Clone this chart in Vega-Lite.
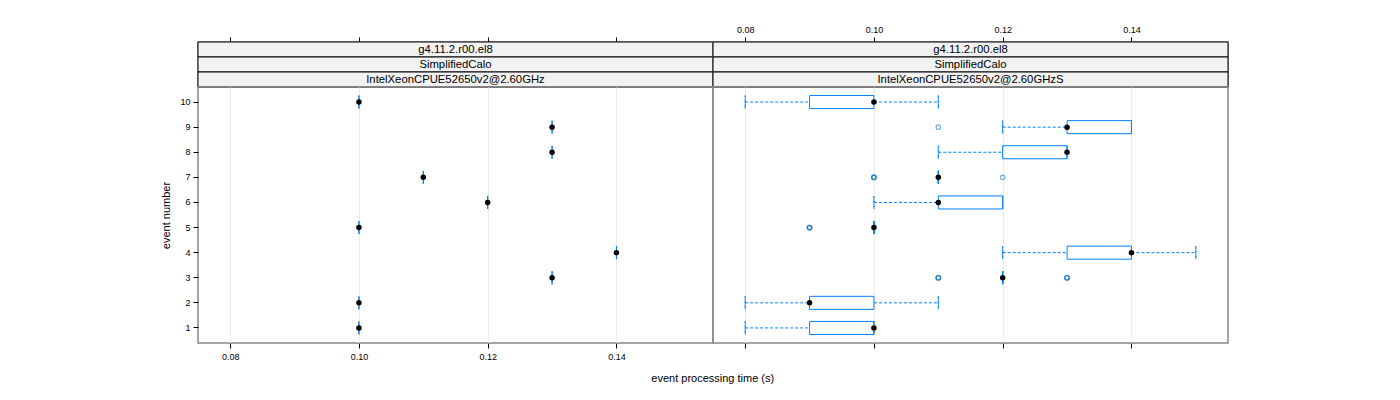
{
  "$schema": "https://vega.github.io/schema/vega-lite/v6.json",
  "padding": {"left": 160, "top": 24, "right": 5, "bottom": 5},
  "config": {
    "font": "Liberation Sans",
    "view": {"stroke": "#888888", "strokeWidth": 1.5},
    "axis": {"labelFontSize": 9, "labelColor": "#000000", "tickColor": "#000000", "titleFontSize": 11, "titleFontWeight": "normal", "titleColor": "#000000", "domain": false}
  },
  "datasets": {
    "strips": [
      {"panel": "L", "level": 1, "label": "g4.11.2.r00.el8"},
      {"panel": "L", "level": 2, "label": "SimplifiedCalo"},
      {"panel": "L", "level": 3, "label": "IntelXeonCPUE52650v2@2.60GHz"},
      {"panel": "R", "level": 1, "label": "g4.11.2.r00.el8"},
      {"panel": "R", "level": 2, "label": "SimplifiedCalo"},
      {"panel": "R", "level": 3, "label": "IntelXeonCPUE52650v2@2.60GHzS"}
    ],
    "single": [
      {"event": 1, "time": 0.10},
      {"event": 2, "time": 0.10},
      {"event": 3, "time": 0.13},
      {"event": 4, "time": 0.14},
      {"event": 5, "time": 0.10},
      {"event": 6, "time": 0.12},
      {"event": 7, "time": 0.11},
      {"event": 8, "time": 0.13},
      {"event": 9, "time": 0.13},
      {"event": 10, "time": 0.10}
    ],
    "boxes": [
      {"event": 10, "lower": 0.08, "q1": 0.09, "median": 0.10, "q3": 0.10, "upper": 0.11},
      {"event": 9, "lower": 0.12, "q1": 0.13, "median": 0.13, "q3": 0.14, "upper": 0.14},
      {"event": 8, "lower": 0.11, "q1": 0.12, "median": 0.13, "q3": 0.13, "upper": 0.13},
      {"event": 7, "lower": 0.11, "q1": 0.11, "median": 0.11, "q3": 0.11, "upper": 0.11},
      {"event": 6, "lower": 0.10, "q1": 0.11, "median": 0.11, "q3": 0.12, "upper": 0.12},
      {"event": 5, "lower": 0.10, "q1": 0.10, "median": 0.10, "q3": 0.10, "upper": 0.10},
      {"event": 4, "lower": 0.12, "q1": 0.13, "median": 0.14, "q3": 0.14, "upper": 0.15},
      {"event": 3, "lower": 0.12, "q1": 0.12, "median": 0.12, "q3": 0.12, "upper": 0.12},
      {"event": 2, "lower": 0.08, "q1": 0.09, "median": 0.09, "q3": 0.10, "upper": 0.11},
      {"event": 1, "lower": 0.08, "q1": 0.09, "median": 0.10, "q3": 0.10, "upper": 0.10}
    ],
    "outliers": [
      {"event": 9, "time": 0.11},
      {"event": 7, "time": 0.10},
      {"event": 7, "time": 0.10},
      {"event": 7, "time": 0.10},
      {"event": 7, "time": 0.12},
      {"event": 5, "time": 0.09},
      {"event": 5, "time": 0.09},
      {"event": 5, "time": 0.09},
      {"event": 3, "time": 0.11},
      {"event": 3, "time": 0.11},
      {"event": 3, "time": 0.11},
      {"event": 3, "time": 0.13},
      {"event": 3, "time": 0.13},
      {"event": 3, "time": 0.13}
    ]
  },
  "title": {"text": "event processing time (s)", "orient": "bottom", "anchor": "middle", "fontSize": 11, "fontWeight": "normal", "color": "#000000", "offset": 11, "dx": 18},
  "spacing": 0,
  "bounds": "flush",
  "columns": 2,
  "resolve": {"scale": {"x": "independent", "y": "independent"}},
  "concat": [
    {
      "width": 515,
      "height": 45,
      "data": {"name": "strips"},
      "transform": [{"filter": "datum.panel === 'L'"}],
      "encoding": {
        "y": {"field": "level", "type": "ordinal", "scale": {"paddingInner": 0, "paddingOuter": 0}, "axis": null}
      },
      "layer": [
        {
          "mark": {"type": "rect", "fill": "#f2f2f2", "stroke": "#000000", "strokeWidth": 1},
          "encoding": {
            "x": {"datum": 0.075, "type": "quantitative", "scale": {"domain": [0.075, 0.155], "nice": false, "zero": false},
              "axis": {"orient": "top", "values": [0.08, 0.10, 0.12, 0.14], "labels": false, "tickSize": 5, "grid": false, "title": null}},
            "x2": {"datum": 0.155}
          }
        },
        {
          "mark": {"type": "text", "fontSize": 11.3, "color": "#000000"},
          "encoding": {
            "x": {"datum": 0.115, "type": "quantitative"},
            "text": {"field": "label"}
          }
        }
      ]
    },
    {
      "width": 515,
      "height": 45,
      "data": {"name": "strips"},
      "transform": [{"filter": "datum.panel === 'R'"}],
      "encoding": {
        "y": {"field": "level", "type": "ordinal", "scale": {"paddingInner": 0, "paddingOuter": 0}, "axis": null}
      },
      "layer": [
        {
          "mark": {"type": "rect", "fill": "#f2f2f2", "stroke": "#000000", "strokeWidth": 1},
          "encoding": {
            "x": {"datum": 0.075, "type": "quantitative", "scale": {"domain": [0.075, 0.155], "nice": false, "zero": false},
              "axis": {"orient": "top", "values": [0.08, 0.10, 0.12, 0.14], "format": ".2f", "labels": true, "tickSize": 5, "labelPadding": 3, "grid": false, "title": null}},
            "x2": {"datum": 0.155}
          }
        },
        {
          "mark": {"type": "text", "fontSize": 11.3, "color": "#000000"},
          "encoding": {
            "x": {"datum": 0.115, "type": "quantitative"},
            "text": {"field": "label"}
          }
        }
      ]
    },
    {
      "width": 515,
      "height": 256,
      "data": {"name": "single"},
      "encoding": {
        "y": {"field": "event", "type": "ordinal", "sort": "descending",
          "scale": {"paddingInner": 0.48, "paddingOuter": 0.34},
          "axis": {"title": "event number", "tickSize": 5, "labelPadding": 3, "titlePadding": 8, "grid": false}}
      },
      "layer": [
        {
          "mark": {"type": "rect", "fillOpacity": 0, "stroke": "#0080ff", "strokeWidth": 1},
          "encoding": {
            "x": {"field": "time", "type": "quantitative", "scale": {"domain": [0.075, 0.155], "nice": false, "zero": false},
              "axis": {"orient": "bottom", "values": [0.08, 0.10, 0.12, 0.14], "format": ".2f", "tickSize": 5, "labelPadding": 4, "grid": true, "gridColor": "#ebebeb", "title": null}},
            "x2": {"field": "time"}
          }
        },
        {
          "mark": {"type": "point", "filled": true, "color": "#000000", "size": 30, "opacity": 1},
          "encoding": {"x": {"field": "time", "type": "quantitative"}}
        }
      ]
    },
    {
      "width": 515,
      "height": 256,
      "layer": [
        {
          "data": {"name": "boxes"},
          "mark": {"type": "rule", "stroke": "#0080ff", "strokeWidth": 1, "strokeDash": [3, 2]},
          "encoding": {
            "y": {"field": "event", "type": "ordinal", "sort": "descending", "scale": {"paddingInner": 0.48, "paddingOuter": 0.34}, "axis": null},
            "x": {"field": "lower", "type": "quantitative", "scale": {"domain": [0.075, 0.155], "nice": false, "zero": false},
              "axis": {"orient": "bottom", "values": [0.08, 0.10, 0.12, 0.14], "labels": false, "tickSize": 5, "grid": true, "gridColor": "#ebebeb", "title": null}},
            "x2": {"field": "q1"}
          }
        },
        {
          "data": {"name": "boxes"},
          "mark": {"type": "rule", "stroke": "#0080ff", "strokeWidth": 1, "strokeDash": [3, 2]},
          "encoding": {
            "y": {"field": "event", "type": "ordinal", "sort": "descending"},
            "x": {"field": "q3", "type": "quantitative"},
            "x2": {"field": "upper"}
          }
        },
        {
          "data": {"name": "boxes"},
          "mark": {"type": "rect", "fillOpacity": 0, "stroke": "#0080ff", "strokeWidth": 1, "strokeDash": [3, 2]},
          "encoding": {
            "y": {"field": "event", "type": "ordinal", "sort": "descending"},
            "x": {"field": "lower", "type": "quantitative"},
            "x2": {"field": "lower"}
          }
        },
        {
          "data": {"name": "boxes"},
          "mark": {"type": "rect", "fillOpacity": 0, "stroke": "#0080ff", "strokeWidth": 1, "strokeDash": [3, 2]},
          "encoding": {
            "y": {"field": "event", "type": "ordinal", "sort": "descending"},
            "x": {"field": "upper", "type": "quantitative"},
            "x2": {"field": "upper"}
          }
        },
        {
          "data": {"name": "boxes"},
          "mark": {"type": "rect", "fillOpacity": 0, "stroke": "#0080ff", "strokeWidth": 1},
          "encoding": {
            "y": {"field": "event", "type": "ordinal", "sort": "descending"},
            "x": {"field": "q1", "type": "quantitative"},
            "x2": {"field": "q3"}
          }
        },
        {
          "data": {"name": "outliers"},
          "mark": {"type": "point", "filled": false, "stroke": "#0072c6", "strokeWidth": 1.2, "size": 20, "opacity": 0.55},
          "encoding": {
            "y": {"field": "event", "type": "ordinal", "sort": "descending"},
            "x": {"field": "time", "type": "quantitative"}
          }
        },
        {
          "data": {"name": "boxes"},
          "mark": {"type": "point", "filled": true, "color": "#000000", "size": 30, "opacity": 1},
          "encoding": {
            "y": {"field": "event", "type": "ordinal", "sort": "descending"},
            "x": {"field": "median", "type": "quantitative"}
          }
        }
      ]
    }
  ]
}
